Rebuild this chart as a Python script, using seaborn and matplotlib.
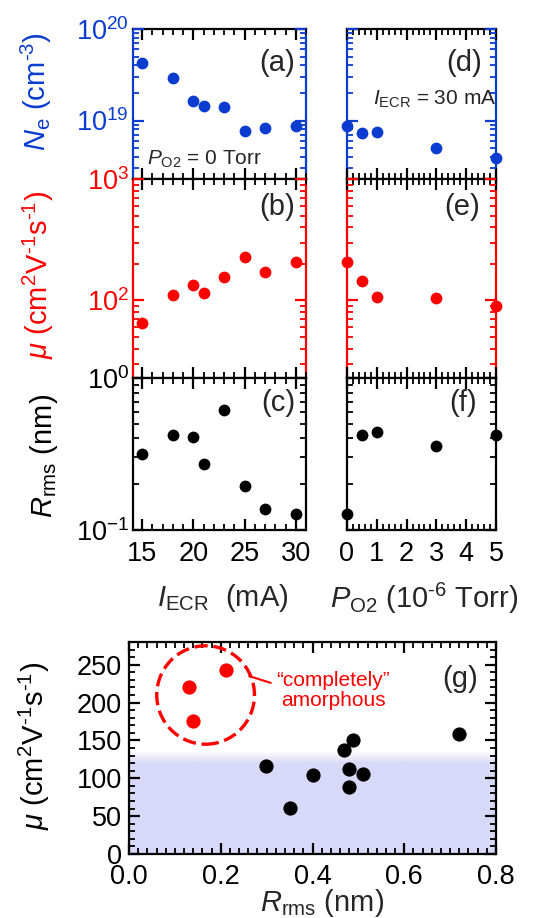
import numpy as np
import matplotlib.pyplot as plt
import seaborn as sns
from matplotlib.ticker import LogLocator, NullFormatter, MultipleLocator, FormatStrFormatter
from matplotlib.patches import Ellipse

# ---- data ----
i_ecr = [15, 18, 20, 21, 23, 25, 27, 30]
ne_vs_iecr = [4.2e19, 2.9e19, 1.65e19, 1.46e19, 1.41e19, 7.6e18, 8.3e18, 8.7e18]
mu_vs_iecr = [65, 110, 135, 116, 155, 226, 171, 208]
rrms_vs_iecr = [0.315, 0.42, 0.41, 0.271, 0.614, 0.195, 0.137, 0.127]

p_o2 = [0, 0.5, 1, 3, 5]
ne_vs_po2 = [8.7e18, 7.4e18, 7.5e18, 5.05e18, 3.9e18]
mu_vs_po2 = [208, 146, 106, 105, 90]
rrms_vs_po2 = [0.127, 0.42, 0.442, 0.356, 0.42]

amorph_rrms = [0.131, 0.140, 0.211]
amorph_mu = [221, 176, 243]
other_rrms = [0.299, 0.351, 0.400, 0.469, 0.489, 0.480, 0.479, 0.509, 0.720]
other_mu = [116, 61, 104, 138, 150, 112, 89, 106, 159]

BLUE = '#0a3cd0'
RED = '#ff0000'
HY = '\u2010'  # short hyphen used in the exponents

sns.set_theme(style='ticks')
plt.rcParams['font.family'] = ['Liberation Sans', 'DejaVu Sans']
plt.rcParams['mathtext.fontset'] = 'custom'
plt.rcParams['mathtext.rm'] = 'Liberation Sans'
plt.rcParams['mathtext.it'] = 'Liberation Sans:italic'
plt.rcParams['mathtext.bf'] = 'Liberation Sans:bold'
plt.rcParams.update({
    'axes.axisbelow': False,
    'xtick.direction': 'in', 'ytick.direction': 'in',
    'xtick.top': True, 'ytick.right': True,
    'xtick.color': 'black', 'ytick.color': 'black',
    'xtick.major.size': 8, 'ytick.major.size': 8,
    'xtick.minor.size': 4.5, 'ytick.minor.size': 4.5,
    'xtick.major.width': 1.6, 'ytick.major.width': 1.6,
    'xtick.minor.width': 1.3, 'ytick.minor.width': 1.3,
    'axes.linewidth': 1.6,
})

W, H = 537, 918
fig = plt.figure(figsize=(W / 100, H / 100), dpi=100)


def box(left, top, right, bottom):
    # pixel box -> figure fraction
    return [left / W, 1 - bottom / H, (right - left) / W, (bottom - top) / H]


def ticks(ax):
    ax.set_axisbelow(False)
    ax.tick_params(which='both', direction='in', top=True, right=True,
                   bottom=True, left=True)
    ax.tick_params(which='major', length=8, width=1.6)
    ax.tick_params(which='minor', length=4.5, width=1.3)


def style(ax, color):
    ax.set_yscale('log')
    ax.yaxis.set_major_locator(LogLocator(base=10))
    ax.yaxis.set_minor_locator(LogLocator(base=10, subs=np.arange(2, 10)))
    ax.yaxis.set_minor_formatter(NullFormatter())
    for s in ax.spines.values():
        s.set_color('black')
    ax.spines['left'].set_color(color)
    ax.spines['right'].set_color(color)
    ticks(ax)
    ax.tick_params(labelsize=19.5, pad=3)
    ax.tick_params(axis='x', which='both', colors='black')
    ax.tick_params(axis='y', which='both', colors=color)
    ax.set_xlabel('')
    ax.set_ylabel('')


left_x = (133, 306)
right_x = (347, 496)
rows = [(29, 179), (179, 378), (378, 530)]

ax_a = fig.add_axes(box(left_x[0], rows[0][0], left_x[1], rows[0][1]))
ax_b = fig.add_axes(box(left_x[0], rows[1][0], left_x[1], rows[1][1]), sharex=ax_a)
ax_c = fig.add_axes(box(left_x[0], rows[2][0], left_x[1], rows[2][1]), sharex=ax_a)
ax_d = fig.add_axes(box(right_x[0], rows[0][0], right_x[1], rows[0][1]))
ax_e = fig.add_axes(box(right_x[0], rows[1][0], right_x[1], rows[1][1]), sharex=ax_d)
ax_f = fig.add_axes(box(right_x[0], rows[2][0], right_x[1], rows[2][1]), sharex=ax_d)

panels = [
    (ax_a, i_ecr, ne_vs_iecr, BLUE, (2.3e18, 1e20), '(a)', 0.936, 0.773),
    (ax_b, i_ecr, mu_vs_iecr, RED, (23, 1000), '(b)', 0.936, 0.861),
    (ax_c, i_ecr, rrms_vs_iecr, 'black', (0.1, 1), '(c)', 0.936, 0.835),
    (ax_d, p_o2, ne_vs_po2, BLUE, (2.3e18, 1e20), '(d)', 0.904, 0.773),
    (ax_e, p_o2, mu_vs_po2, RED, (23, 1000), '(e)', 0.893, 0.861),
    (ax_f, p_o2, rrms_vs_po2, 'black', (0.1, 1), '(f)', 0.870, 0.835),
]
for ax, xs, ys, col, ylim, lab, lx, ly in panels:
    sns.scatterplot(x=xs, y=ys, ax=ax, color=col, s=72, linewidth=0,
                    clip_on=False, zorder=5)
    style(ax, col)
    ax.set_ylim(*ylim)
    ax.text(lx, ly, lab, transform=ax.transAxes, ha='right', va='center',
            fontsize=21)

ax_a.set_xlim(14.1, 31.0)
ax_a.xaxis.set_major_locator(MultipleLocator(5))
ax_a.xaxis.set_minor_locator(MultipleLocator(1))
ax_d.set_xlim(0, 5)
ax_d.xaxis.set_major_locator(MultipleLocator(1))
ax_d.xaxis.set_minor_locator(MultipleLocator(0.2))

for ax in (ax_a, ax_b, ax_d, ax_e):
    ax.tick_params(labelbottom=False)
for ax in (ax_d, ax_e, ax_f):
    ax.tick_params(labelleft=False)
for ax in (ax_c, ax_f):
    ax.tick_params(axis='x', pad=8)

ax_a.text(0.079, 0.095, r'$P_{\rm O2}$ = 0 Torr', transform=ax_a.transAxes,
          fontsize=15, va='baseline')
ax_d.text(0.172, 0.493, r'$I_{\rm ECR}$ = 30 mA', transform=ax_d.transAxes,
          fontsize=15, va='baseline')

mu_label = r'$\mu$ (cm$^2$V$^{' + HY + '1}$s$^{' + HY + '1}$)'

# axis titles
fig.text(36 / W, 1 - 92 / H, r'$N_{\rm e}$ (cm$^{' + HY + '3}$)', color=BLUE,
         rotation=90, ha='center', va='center', fontsize=21)
fig.text(38 / W, 1 - 275 / H, mu_label, color=RED, rotation=90,
         ha='center', va='center', fontsize=21)
fig.text(44 / W, 1 - 456 / H, r'$R_{\rm rms}$ (nm)', color='black',
         rotation=90, ha='center', va='center', fontsize=21)
fig.text(223 / W, 1 - 598 / H, r'$I_{\rm ECR}$  (mA)', ha='center',
         va='center', fontsize=21)
fig.text(424 / W, 1 - 598 / H, r'$P_{\rm O2}$ (10$^{' + HY + '6}$ Torr)',
         ha='center', va='center', fontsize=21)

# ---- panel (g) ----
ax_g = fig.add_axes(box(129, 642, 496, 854))
shade_top, fade_start = 136, 120
grad = np.linspace(0, shade_top, 200)
alpha = np.clip((shade_top - grad) / (shade_top - fade_start), 0, 1)
rgba = np.zeros((200, 1, 4))
rgba[..., :3] = np.array([216, 216, 248]) / 255
rgba[:, 0, 3] = alpha
ax_g.imshow(rgba, extent=(0, 0.8, 0, shade_top), origin='lower',
            aspect='auto', zorder=0, interpolation='bilinear')

sns.scatterplot(x=other_rrms, y=other_mu, ax=ax_g, color='black', s=105,
                linewidth=0, zorder=5, clip_on=False)
sns.scatterplot(x=amorph_rrms, y=amorph_mu, ax=ax_g, color=RED, s=105,
                linewidth=0, zorder=5, clip_on=False)
ax_g.add_patch(Ellipse((0.167, 210), 0.213, 130, fill=False, edgecolor=RED,
                       linewidth=2.4, linestyle=(0, (4, 1.7)), zorder=4))
ax_g.plot([0.262, 0.309], [235, 226], color=RED, linewidth=1.5)
ax_g.text(0.445, 216, '\u201ccompletely\u201d\namorphous', color=RED,
          ha='center', va='center', fontsize=15, linespacing=1.05)
ax_g.text(0.76, 231, '(g)', ha='right', va='center', fontsize=21)

ax_g.set_xlim(0, 0.8)
ax_g.set_ylim(0, 280)
for s in ax_g.spines.values():
    s.set_color('black')
ax_g.xaxis.set_major_locator(MultipleLocator(0.2))
ax_g.xaxis.set_minor_locator(MultipleLocator(0.02))
ax_g.xaxis.set_major_formatter(FormatStrFormatter('%.1f'))
ax_g.yaxis.set_major_locator(MultipleLocator(50))
ax_g.yaxis.set_minor_locator(MultipleLocator(10))
ticks(ax_g)
ax_g.tick_params(labelsize=19.5, colors='black')
ax_g.tick_params(axis='x', pad=7)
ax_g.tick_params(axis='y', pad=5)
ax_g.set_xlabel('')
ax_g.set_ylabel('')

fig.text(34 / W, 1 - 746 / H, mu_label, color='black', rotation=90,
         ha='center', va='center', fontsize=21)
fig.text(322 / W, 1 - 903 / H, r'$R_{\rm rms}$ (nm)', ha='center',
         va='center', fontsize=21)

fig.savefig('out.png', dpi=100)
